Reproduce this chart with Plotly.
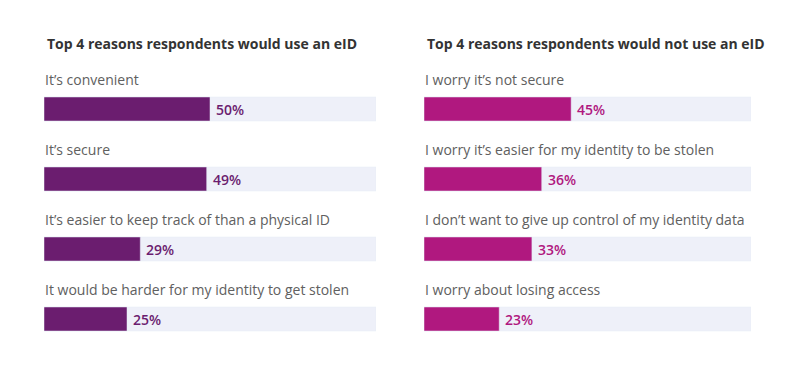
import plotly.graph_objects as go

left_title = "Top 4 reasons respondents would use an eID"
right_title = "Top 4 reasons respondents would not use an eID"
left_labels = ["It\u2019s convenient", "It\u2019s secure",
               "It\u2019s easier to keep track of than a physical ID",
               "It would be harder for my identity to get stolen"]
left_values = [50, 49, 29, 25]
right_labels = ["I worry it\u2019s not secure",
                "I worry it\u2019s easier for my identity to be stolen",
                "I don\u2019t want to give up control of my identity data",
                "I worry about losing access"]
right_values = [45, 36, 33, 23]
full_scale = [100, 100, 100, 100]

W, H = 800, 366
OFF = 8  # page body margin
LEFT_COLOR = "#6B1D6F"
RIGHT_COLOR = "#B0187F"
TRACK = "#EEF0F9"
FONT = "Open Sans"

fig = go.Figure()
rows = list(range(4))
bw = 24 / 70

panels = [
    ("x", "y", left_labels, left_values, LEFT_COLOR, left_title),
    ("x2", "y2", right_labels, right_values, RIGHT_COLOR, right_title),
]
for xa, ya, labels, values, color, title in panels:
    fig.add_trace(go.Bar(x=full_scale, y=rows, orientation="h", marker_color=TRACK,
                         width=bw, xaxis=xa, yaxis=ya, hoverinfo="skip", showlegend=False))
    fig.add_trace(go.Bar(x=values, y=rows, orientation="h", marker_color=color,
                         width=bw, xaxis=xa, yaxis=ya, showlegend=False))
    for r, lab, v in zip(rows, labels, values):
        fig.add_annotation(x=0, y=r, xref=xa, yref=ya, text=lab, showarrow=False,
                           xanchor="left", yanchor="middle", yshift=30, xshift=-1,
                           font=dict(family=FONT, size=14, color="#606060"))
        fig.add_annotation(x=v, y=r, xref=xa, yref=ya, text=f"{v}%", showarrow=False,
                           xanchor="left", yanchor="middle", xshift=4,
                           font=dict(family=FONT, size=14, color=color, weight=600))
    fig.add_annotation(x=0, y=r, xref=xa, yref=ya, text=f"<b>{title}</b>", showarrow=False,
                       xanchor="left", yanchor="middle", xshift=1,
                       yshift=(319 - 43), font=dict(family=FONT, size=14, color="#333333"))

c0 = 109 - OFF
yr = [(H - c0) / 70, -c0 / 70]
axis_common = dict(showgrid=False, zeroline=False, showticklabels=False, ticks="", showline=False)
fig.update_layout(
    width=W, height=H, margin=dict(l=0, r=0, t=0, b=0),
    paper_bgcolor="white", plot_bgcolor="white", barmode="overlay",
    xaxis=dict(domain=[(44 - OFF) / W, (376 - OFF) / W], range=[0, 100], **axis_common),
    xaxis2=dict(domain=[(424 - OFF) / W, (751 - OFF) / W], range=[0, 100], anchor="y2", **axis_common),
    yaxis=dict(domain=[0, 1], range=yr, **axis_common),
    yaxis2=dict(domain=[0, 1], range=yr, anchor="x2", **axis_common),
)
fig.write_html("out.html")
